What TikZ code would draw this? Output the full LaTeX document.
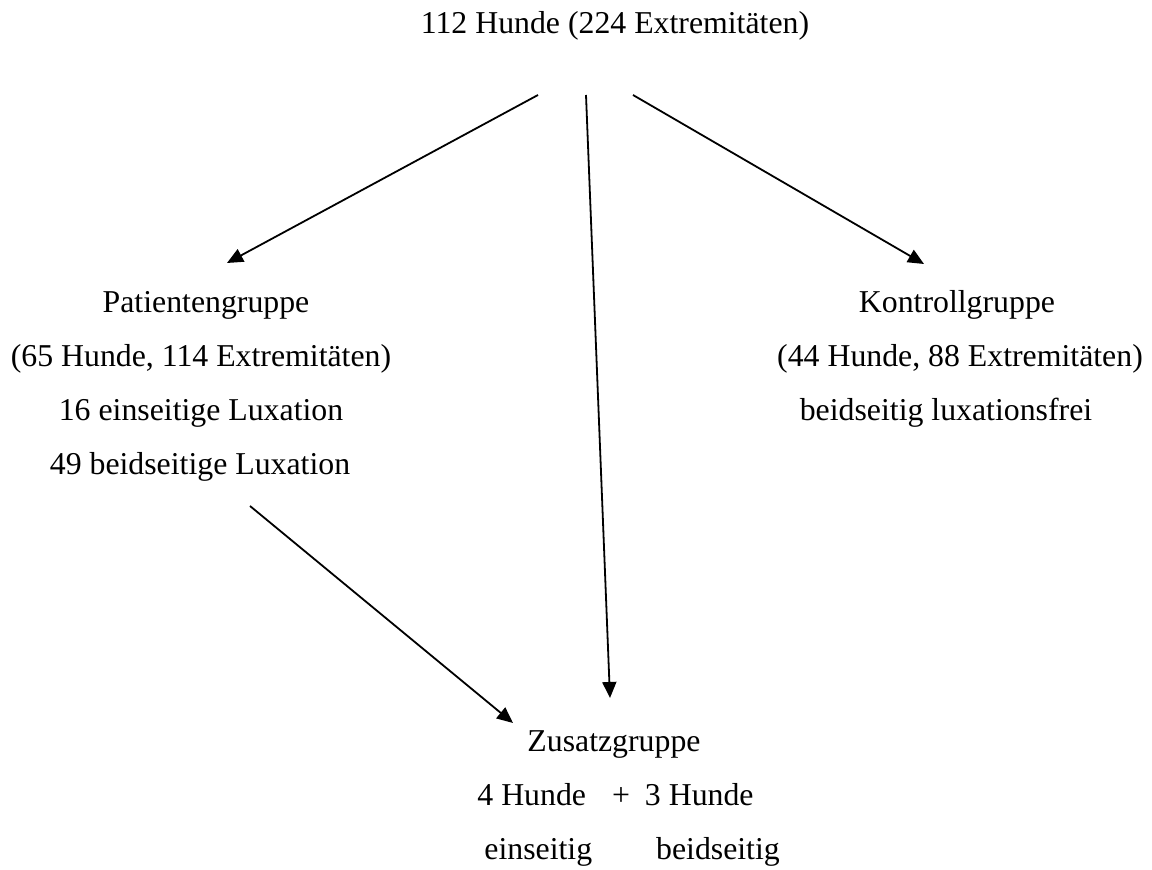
\documentclass[tikz,border=0pt]{standalone}
\usepackage{fontspec}
\setmainfont{Liberation Serif}
\usetikzlibrary{arrows.meta}
\begin{document}
\begin{tikzpicture}[x=0.5pt,y=-0.5pt,
  lbl/.style={inner sep=0pt, anchor=base, font=\fontsize{15.9}{18}\selectfont},
  lblw/.style={lbl, anchor=base west},
  arr/.style={line width=0.9pt, -{Triangle[length=8pt,width=7pt]}}]
\useasboundingbox (0,0) rectangle (1152,870);
% title
\node[lbl] (title) at (615,34) {112 Hunde (224 Extremitäten)};
% left block
\node[lbl] (p1) at (206,313) {Patientengruppe};
\node[lbl] (p2) at (201,367) {(65 Hunde, 114 Extremitäten)};
\node[lbl] (p3) at (201,421) {16 einseitige Luxation};
\node[lbl] (p4) at (200,475) {49 beidseitige Luxation};
% right block
\node[lbl] (k1) at (957,313) {Kontrollgruppe};
\node[lbl] (k2) at (960,367) {(44 Hunde, 88 Extremitäten)};
\node[lbl] (k3) at (946,421) {beidseitig luxationsfrei};
% bottom block
\node[lbl] (z1) at (614,752) {Zusatzgruppe};
\node[lblw] (z2) at (477,806) {4 Hunde\hspace{13pt}+\hspace{7.5pt}3 Hunde};
\node[lblw] (z3) at (484,860) {einseitig\hspace{32pt}beidseitig};
% arrow end points
\coordinate (s1) at (538,95);
\coordinate (s2) at (586,95);
\coordinate (s3) at (633,95);
\coordinate (s4) at (250,506);
\coordinate (t1) at (227,263);
\coordinate (t2) at (610,698);
\coordinate (t3) at (924,264);
\coordinate (t4) at (513,723);
\draw[arr] (s1) -- (t1);
\draw[arr] (s2) -- (t2);
\draw[arr] (s3) -- (t3);
\draw[arr] (s4) -- (t4);
\end{tikzpicture}
\end{document}
